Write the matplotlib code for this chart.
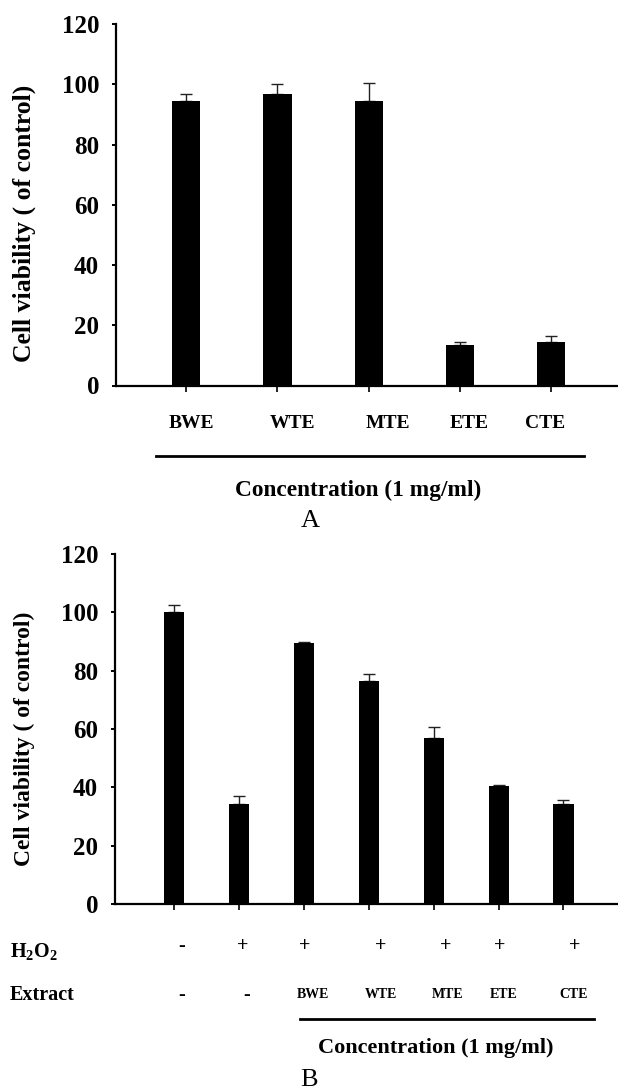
import numpy as np
import matplotlib
matplotlib.use("Agg")
import matplotlib.pyplot as plt
import matplotlib.transforms as mtransforms

plt.rcParams['font.family'] = ['Liberation Serif', 'DejaVu Serif']
plt.rcParams['font.weight'] = 'bold'
plt.rcParams['mathtext.fontset'] = 'custom'
plt.rcParams['mathtext.rm'] = 'Liberation Serif:bold'
plt.rcParams['mathtext.it'] = 'Liberation Serif:bold'
plt.rcParams['mathtext.bf'] = 'Liberation Serif:bold'

# panel A: extracts alone
extractsA = ["BWE", "WTE", "MTE", "ETE", "CTE"]
viabilityA = [94.3, 96.8, 94.5, 13.3, 14.3]
errA = [2.3, 3.3, 5.9, 1.2, 2.0]

# panel B: H2O2 challenge with extracts
h2o2B = ["-", "+", "+", "+", "+", "+", "+"]
extractB = ["-", "-", "BWE", "WTE", "MTE", "ETE", "CTE"]
viabilityB = [100.2, 34.4, 89.5, 76.5, 57.0, 40.4, 34.4]
errB = [2.2, 2.5, 0.2, 2.2, 3.6, 0.5, 1.4]

yticks = [0, 20, 40, 60, 80, 100, 120]
ylabel = "Cell viability ( of control)"
conc = "Concentration (1 mg/ml)"

W, H = 618, 1090
fig = plt.figure(figsize=(W / 100, H / 100), dpi=100)


def px(x0, y0, x1, y1):
    return [x0 / W, 1 - y1 / H, (x1 - x0) / W, (y1 - y0) / H]


def fy(y):
    return 1 - y / H


def style(ax, n, xlim):
    ax.set_xlim(*xlim)
    ax.set_ylim(0, 120)
    ax.set_yticks(yticks)
    ax.set_yticklabels([str(v) for v in yticks], fontsize=18, fontweight='bold')
    ax.set_xticks(np.arange(n))
    ax.set_xticklabels([])
    for s in ['top', 'right']:
        ax.spines[s].set_visible(False)
    for s in ['left', 'bottom']:
        ax.spines[s].set_linewidth(1.6)
    ax.tick_params(axis='y', direction='out', length=3.2, width=1.4, pad=9)
    ax.tick_params(axis='x', direction='out', length=4, width=1.2)


# ---- panel A
axA = fig.add_axes(px(116, 24, 618, 385.5))
xA = np.arange(len(extractsA))
axA.bar(xA, viabilityA, width=0.31, color='black', zorder=2)
axA.errorbar(xA, viabilityA, yerr=[np.zeros(len(errA)), errA], fmt='none',
             ecolor='#222222', elinewidth=1.0, capsize=4, capthick=1.0, zorder=1)
style(axA, len(extractsA), (-0.767, 4.73))
fig.text(24 / W, fy(223), ylabel, rotation=90, ha='center', va='center',
         fontsize=18.5, fontweight='bold')

trA = mtransforms.blended_transform_factory(axA.transData, fig.transFigure)
offA = [0.06, 0.16, 0.21, 0.1, -0.07]
for i, lab in enumerate(extractsA):
    fig.text(i + offA[i], fy(424), lab, transform=trA, ha='center', va='center',
             fontsize=14, fontweight='bold')
fig.add_artist(plt.Line2D([156 / W, 584 / W], [fy(456)] * 2, color='black', lw=2.0))
fig.text(358 / W, fy(490), conc, ha='center', va='center', fontsize=16.8, fontweight='bold')
fig.text(310 / W, fy(521), "A", ha='center', va='center', fontsize=19, fontweight='normal')

# ---- panel B
axB = fig.add_axes(px(115, 554, 618, 904))
xB = np.arange(len(extractB))
axB.bar(xB, viabilityB, width=0.31, color='black', zorder=2)
axB.errorbar(xB, viabilityB, yerr=[np.zeros(len(errB)), errB], fmt='none',
             ecolor='#222222', elinewidth=1.0, capsize=4, capthick=1.0, zorder=1)
style(axB, len(extractB), (-0.91, 6.84))
fig.text(24 / W, fy(739), ylabel, rotation=90, ha='center', va='center',
         fontsize=17, fontweight='bold')

trB = mtransforms.blended_transform_factory(axB.transData, fig.transFigure)
offH = [0.12, 0.06, 0.02, 0.19, 0.18, 0.02, 0.18]
offE = [0.12, 0.12, 0.14, 0.19, 0.22, 0.08, 0.15]
for i in range(len(extractB)):
    fig.text(i + offH[i], fy(946), h2o2B[i], transform=trB, ha='center', va='center',
             fontsize=14.5, fontweight='bold')
    fs = 14.5 if extractB[i] == "-" else 10
    fig.text(i + offE[i], fy(995), extractB[i], transform=trB, ha='center', va='center',
             fontsize=fs, fontweight='bold')
fig.text(10 / W, fy(951), r"H$_2$O$_2$", ha='left', va='center', fontsize=14.5, fontweight='bold')
fig.text(10 / W, fy(995), "Extract", ha='left', va='center', fontsize=14.5, fontweight='bold')
fig.add_artist(plt.Line2D([300 / W, 594 / W], [fy(1019)] * 2, color='black', lw=2.0))
fig.text(436 / W, fy(1048), conc, ha='center', va='center', fontsize=16, fontweight='bold')
fig.text(309 / W, fy(1080), "B", ha='center', va='center', fontsize=19, fontweight='normal')

fig.savefig("out.png", dpi=100, facecolor='white')
